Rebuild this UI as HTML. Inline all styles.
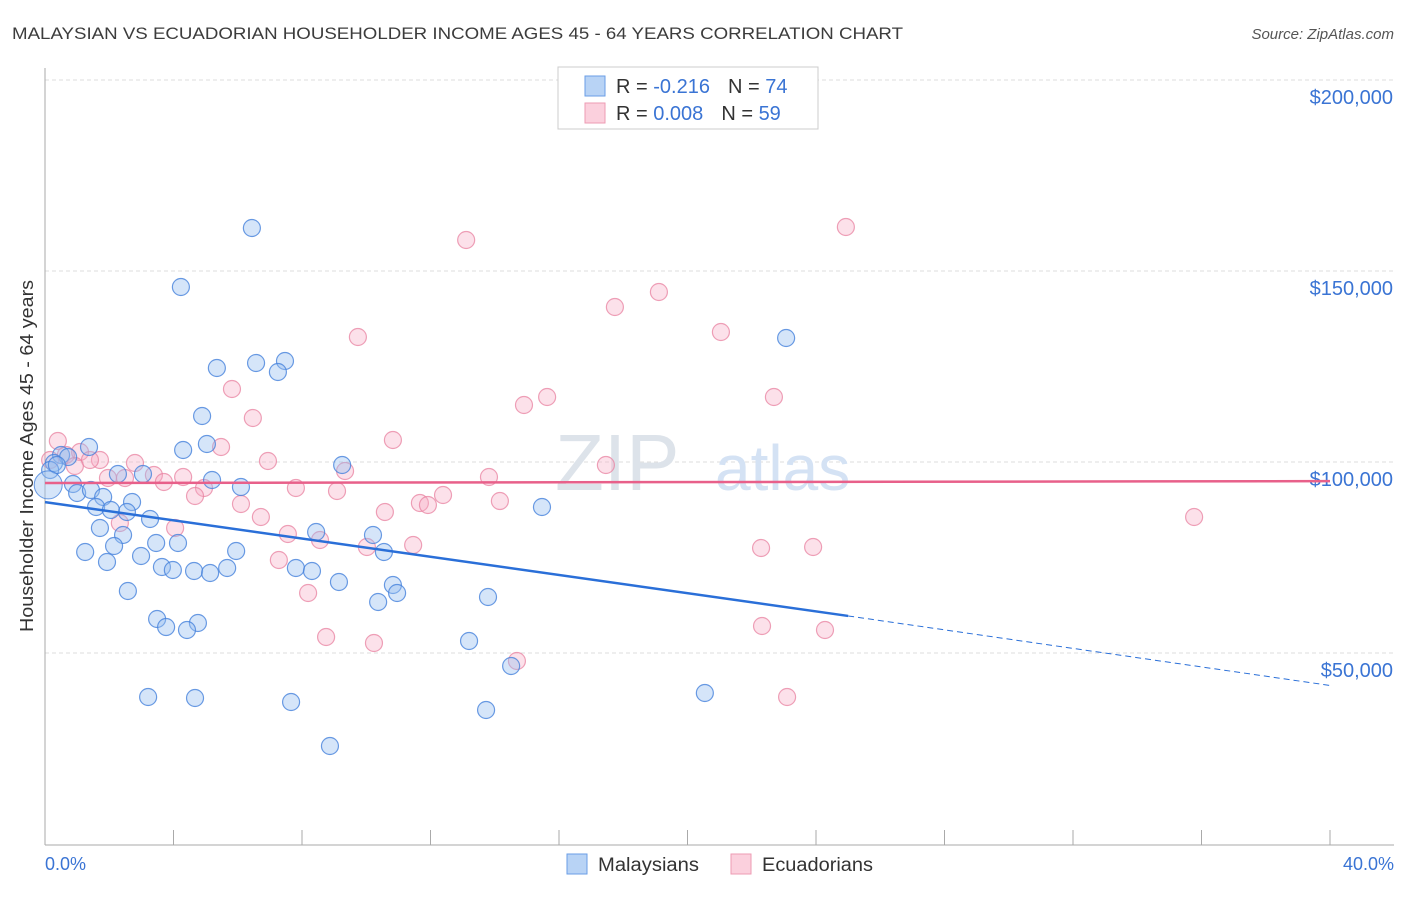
<!DOCTYPE html>
<html><head><meta charset="utf-8"><style>
body{margin:0;background:#fff;font-family:"Liberation Sans",sans-serif}
svg text{font-family:"Liberation Sans",sans-serif}
</style></head><body>
<svg id="chart" width="1406" height="892" xmlns="http://www.w3.org/2000/svg">
<text x="12" y="39" font-size="17" fill="#3c3c3c" textLength="891" lengthAdjust="spacingAndGlyphs">MALAYSIAN VS ECUADORIAN HOUSEHOLDER INCOME AGES 45 - 64 YEARS CORRELATION CHART</text>
<text x="1394" y="39" font-size="15" fill="#555" font-style="italic" text-anchor="end">Source: ZipAtlas.com</text>
<g id="grid"></g>
<line x1="45" y1="68" x2="45" y2="845" stroke="#aaa"/>
<line x1="45" y1="845" x2="1394" y2="845" stroke="#aaa"/>
<g id="xticks"></g>
<text x="555" y="490" font-size="80" fill="#dde3ea" font-family="Liberation Serif">ZIP</text>
<text x="715" y="490" font-size="64" fill="#d4e2f4">atlas</text>
<text transform="translate(33,456) rotate(-90)" font-size="18" fill="#333" text-anchor="middle" textLength="352" lengthAdjust="spacingAndGlyphs">Householder Income Ages 45 - 64 years</text>
<text x="45" y="870" font-size="18" fill="#3a74d4">0.0%</text>
<text x="1394" y="870" font-size="18" fill="#3a74d4" text-anchor="end">40.0%</text>
<g id="pts"></g>
<g id="lines"></g>
<g>
<rect x="558" y="67" width="260" height="62" fill="#fff" stroke="#ccc"/>
<rect x="585" y="76" width="20" height="20" fill="#b8d3f5" stroke="#6a9ee6"/>
<rect x="585" y="103" width="20" height="20" fill="#fbd0dd" stroke="#ee9bb3"/>
<text x="616" y="93" font-size="20" fill="#333">R = <tspan fill="#3a74d4">-0.216</tspan><tspan dx="18">N = </tspan><tspan fill="#3a74d4">74</tspan></text>
<text x="616" y="120" font-size="20" fill="#333">R = <tspan fill="#3a74d4">0.008</tspan><tspan dx="18">N = </tspan><tspan fill="#3a74d4">59</tspan></text>
</g>
<g>
<rect x="567" y="854" width="20" height="20" fill="#b8d3f5" stroke="#6a9ee6"/>
<text x="598" y="871" font-size="19" fill="#333" textLength="101" lengthAdjust="spacingAndGlyphs">Malaysians</text></g>
<g>
<rect x="731" y="854" width="20" height="20" fill="#fbd0dd" stroke="#ee9bb3"/>
<text x="762" y="871" font-size="19" fill="#333" textLength="111" lengthAdjust="spacingAndGlyphs">Ecuadorians</text></g>
</svg>
<script>
const yTicks=[50000,100000,150000,200000];
const yTickLabels=["$50,000","$100,000","$150,000","$200,000"];
const xTicks=[0,4,8,12,16,20,24,28,32,36,40];
const bluePx=[[252,228],[181,287],[786,338],[217,368],[256,363],[285,361],[278,372],[202,416],[183,450],[207,444],[89,447],[61,455],[68,457],[54,463],[50,470],[57,465],[342,465],[118,474],[143,474],[212,480],[241,487],[73,484],[77,493],[91,490],[103,497],[132,502],[96,507],[127,512],[111,510],[542,507],[150,519],[316,532],[100,528],[123,535],[373,535],[178,543],[156,543],[236,551],[85,552],[114,546],[384,552],[141,556],[107,562],[162,567],[173,570],[194,571],[210,573],[227,568],[296,568],[312,571],[393,585],[339,582],[397,593],[128,591],[378,602],[488,597],[157,619],[166,627],[198,623],[187,630],[469,641],[511,666],[148,697],[195,698],[705,693],[291,702],[486,710],[330,746]];
const pinkPx=[[846,227],[466,240],[615,307],[659,292],[358,337],[721,332],[232,389],[547,397],[524,405],[774,397],[253,418],[393,440],[58,441],[221,447],[80,452],[66,455],[268,461],[100,460],[345,471],[606,465],[135,463],[183,477],[154,475],[108,478],[125,478],[164,482],[489,477],[204,488],[296,488],[337,491],[241,504],[443,495],[500,501],[420,503],[428,505],[195,496],[261,517],[385,512],[175,528],[120,523],[288,534],[320,540],[367,547],[413,545],[761,548],[813,547],[1194,517],[279,560],[308,593],[762,626],[825,630],[326,637],[374,643],[517,661],[787,697],[90,460],[75,466],[50,460]];
const blueX=bluePx.map(p=>+((p[0]-45)/1285*40).toFixed(2));
const blueY=bluePx.map(p=>Math.round(200000-(p[1]-80)*50000/191));
const pinkX=pinkPx.map(p=>+((p[0]-45)/1285*40).toFixed(2));
const pinkY=pinkPx.map(p=>Math.round(200000-(p[1]-80)*50000/191));
const blueTrend=[[0,89500],[25,59700],[40,41500]];
const pinkTrend=[[0,94500],[40,95000]];
const xs=v=>45+v/40*1285, ys=v=>80+(200000-v)*191/50000;
const NS="http://www.w3.org/2000/svg";
function mk(t,a,parent){const e=document.createElementNS(NS,t);for(const k in a)e.setAttribute(k,a[k]);document.getElementById(parent).appendChild(e);return e;}
yTicks.forEach((v,i)=>{
 const l=mk('line',{x1:45,x2:1394,y1:ys(v),y2:ys(v),stroke:'#ddd','stroke-dasharray':'4,3'},'grid');
 
 
 const t=mk('text',{x:1393,y:ys(v)+24,'font-size':20,fill:'#3a74d4','text-anchor':'end'},'grid');
 t.textContent=yTickLabels[i];
 
 
});
xTicks.forEach(v=>{
 const l=mk('line',{x1:xs(v),x2:xs(v),y1:830,y2:845,stroke:'#aaa'},'xticks');
 
 
});
pinkX.forEach((x,i)=>{
 const c=mk('circle',{cx:xs(x),cy:ys(pinkY[i]),r:8.5,fill:'rgba(246,170,195,0.35)',stroke:'rgba(232,130,160,0.75)','stroke-width':1.2},'pts');
 
 
});
blueX.forEach((x,i)=>{
 const c=mk('circle',{cx:xs(x),cy:ys(blueY[i]),r:8.5,fill:'rgba(150,190,240,0.4)',stroke:'rgba(70,130,220,0.8)','stroke-width':1.2},'pts');
 
 
});
const big=mk('circle',{cx:xs(0.1),cy:ys(94000),r:14,fill:'rgba(150,190,240,0.4)',stroke:'rgba(70,130,220,0.8)'},'pts');


const b1=mk('line',{x1:xs(blueTrend[0][0]),y1:ys(blueTrend[0][1]),x2:xs(blueTrend[1][0]),y2:ys(blueTrend[1][1]),stroke:'#2a6fd8','stroke-width':2.5},'lines');


const b2=mk('line',{x1:xs(blueTrend[1][0]),y1:ys(blueTrend[1][1]),x2:xs(blueTrend[2][0]),y2:ys(blueTrend[2][1]),stroke:'#2a6fd8','stroke-width':1,'stroke-dasharray':'6,4'},'lines');


const p1=mk('line',{x1:xs(pinkTrend[0][0]),y1:ys(pinkTrend[0][1]),x2:xs(pinkTrend[1][0]),y2:ys(pinkTrend[1][1]),stroke:'#e8608a','stroke-width':2.5},'lines');


</script>
</body></html>
